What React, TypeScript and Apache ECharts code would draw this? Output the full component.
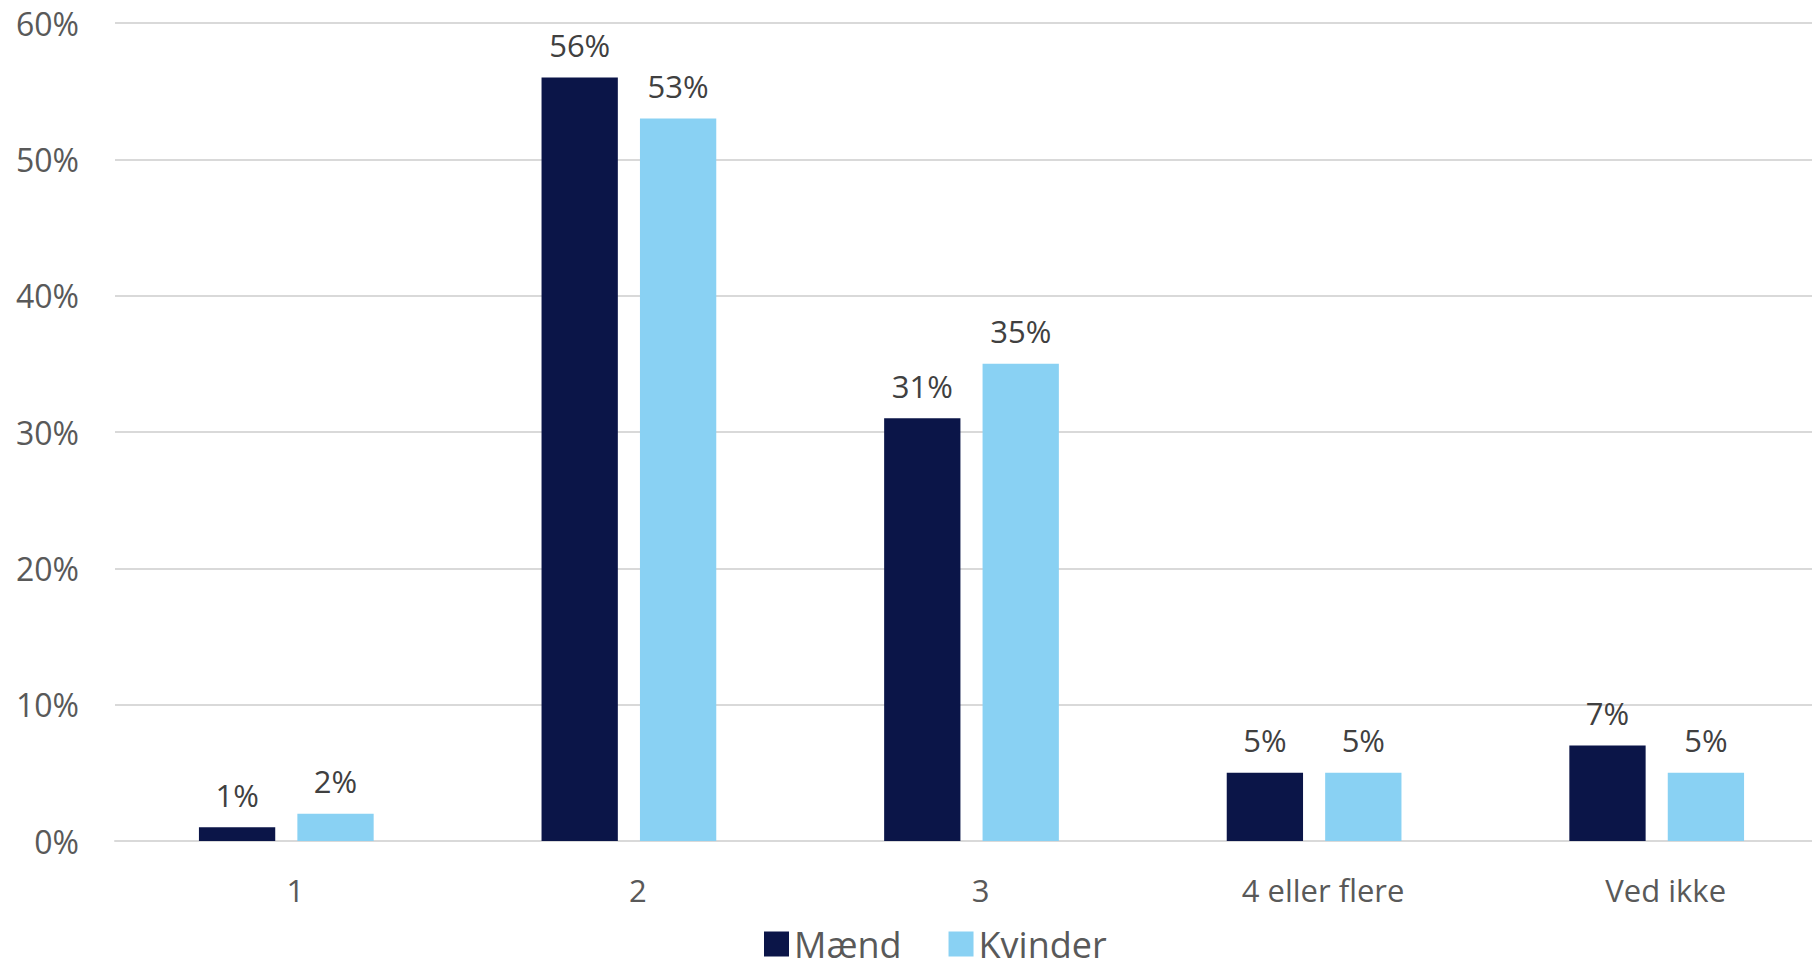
import React, { useEffect, useRef } from "react";
import * as echarts from "echarts";

const categories = ["1", "2", "3", "4 eller flere", "Ved ikke"];
const maendValues = [1, 56, 31, 5, 7];
const kvinderValues = [2, 53, 35, 5, 5];
const seriesNames = ["Mænd", "Kvinder"];

export default function App() {
  const ref = useRef<HTMLDivElement>(null);
  useEffect(() => {
    if (!ref.current) return;
    const chart = echarts.init(ref.current, null, { renderer: "svg" });
    const font = "'Open Sans', sans-serif";
    const labelCfg = {
      show: true,
      position: "top",
      distance: 17,
      formatter: "{c}%",
      color: "#404040",
      fontSize: 31,
      fontFamily: font,
    };
    chart.setOption({
      animation: false,
      backgroundColor: "#ffffff",
      grid: { left: 115, right: 0, top: 23, bottom: 128, containLabel: false },
      legend: {
        data: seriesNames,
        left: 759,
        top: 921,
        itemWidth: 25,
        itemHeight: 25,
        itemGap: 47,
        icon: "rect",
        textStyle: { color: "#595959", fontSize: 36, lineHeight: 36, fontFamily: font, padding: [0, 0, 0, 0] },
      },
      xAxis: {
        type: "category",
        data: categories,
        axisLine: { lineStyle: { color: "#D9D9D9", width: 2 } },
        axisTick: { show: false },
        axisLabel: { color: "#595959", fontSize: 31, fontFamily: font, margin: 33, padding: [0, 0, 0, 18] },
      },
      yAxis: {
        type: "value",
        min: 0,
        max: 60,
        interval: 10,
        axisLine: { show: false },
        axisTick: { show: false },
        splitLine: { lineStyle: { color: "#D9D9D9", width: 2 } },
        axisLabel: { formatter: "{value}%", color: "#595959", fontSize: 32, fontFamily: font, margin: 36 },
      },
      series: [
        {
          name: seriesNames[0],
          type: "bar",
          data: maendValues,
          itemStyle: { color: "#0B1548" },
          barGap: "29%",
          barCategoryGap: "49%",
          label: labelCfg,
        },
        {
          name: seriesNames[1],
          type: "bar",
          data: kvinderValues,
          itemStyle: { color: "#89D1F3" },
          label: labelCfg,
        },
      ],
    });
    return () => chart.dispose();
  }, []);
  return (
    <div
      style={{
        position: "fixed",
        left: 0,
        top: 0,
        width: 1812,
        height: 969,
        overflow: "hidden",
        background: "#fff",
      }}
    >
      <div ref={ref} style={{ width: 1828, height: 969 }} />
    </div>
  );
}
